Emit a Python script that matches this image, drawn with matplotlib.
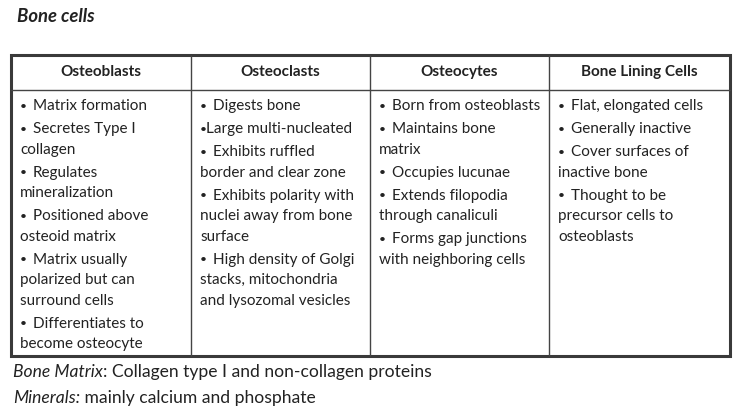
import matplotlib
matplotlib.use("Agg")
import matplotlib.pyplot as plt

plt.rcParams['font.family'] = ['Lato', 'DejaVu Sans']

title = "Bone cells"
headers = ["Osteoblasts", "Osteoclasts", "Osteocytes", "Bone Lining Cells"]
col_osteoblasts = [
    ["Matrix formation"],
    ["Secretes Type I", "collagen"],
    ["Regulates", "mineralization"],
    ["Positioned above", "osteoid matrix"],
    ["Matrix usually", "polarized but can", "surround cells"],
    ["Differentiates to", "become osteocyte"],
]
col_osteoclasts = [
    ["Digests bone"],
    ["Large multi-nucleated"],
    ["Exhibits ruffled", "border and clear zone"],
    ["Exhibits polarity with", "nuclei away from bone", "surface"],
    ["High density of Golgi", "stacks, mitochondria", "and lysozomal vesicles"],
]
col_osteocytes = [
    ["Born from osteoblasts"],
    ["Maintains bone", "matrix"],
    ["Occupies lucunae"],
    ["Extends filopodia", "through canaliculi"],
    ["Forms gap junctions", "with neighboring cells"],
]
col_lining = [
    ["Flat, elongated cells"],
    ["Generally inactive"],
    ["Cover surfaces of", "inactive bone"],
    ["Thought to be", "precursor cells to", "osteoblasts"],
]
columns = [col_osteoblasts, col_osteoclasts, col_osteocytes, col_lining]
footer_labels = ["Bone Matrix", "Minerals:"]
footer_texts = [": Collagen type I and non-collagen proteins", " mainly calcium and phosphate"]

W, H = 741, 419
fig = plt.figure(figsize=(W / 100, H / 100), dpi=100)
ax = fig.add_axes([0, 0, 1, 1])
ax.set_xlim(0, W)
ax.set_ylim(H, 0)
ax.axis("off")

left, right, top, bottom = 11, 729.5, 55.5, 356
col_x = [left, 191, 370, 549, right]
header_bottom = 90.5
ink = "#222222"
fs = 11.0

# Title
ax.text(17, 17, title, fontsize=13.3, fontweight="bold", fontstyle="italic",
        color=ink, va="center", ha="left")

# grid lines
for x in col_x[1:-1]:
    ax.plot([x, x], [top, bottom], color="#444444", lw=1.0, solid_capstyle="butt")
ax.plot([left, right], [header_bottom, header_bottom], color="#444444", lw=1.0)
ax.add_patch(plt.Rectangle((left, top), right - left, bottom - top, fill=False,
                           edgecolor="#3a3a3a", lw=2.2))

# headers
for i, h in enumerate(headers):
    cx = (col_x[i] + col_x[i + 1]) / 2
    ax.text(cx, 72, h, fontsize=fs, fontweight="bold", color=ink,
            ha="center", va="center")

# body
item_gap = 23.0
wrap_gap = 20.5
for ci, items in enumerate(columns):
    x0 = col_x[ci]
    y = 106
    for ii, lines in enumerate(items):
        for li, line in enumerate(lines):
            if li == 0:
                if ci == 1 and ii == 1:
                    ax.text(x0 + 9, y, "•", fontsize=fs * 0.8, color=ink,
                            ha="left", va="center")
                    ax.text(x0 + 15.5, y, line, fontsize=fs, color=ink,
                            ha="left", va="center")
                else:
                    ax.text(x0 + 9, y, "•", fontsize=fs * 0.8, color=ink,
                            ha="left", va="center")
                    ax.text(x0 + 22, y, line, fontsize=fs, color=ink,
                            ha="left", va="center")
            else:
                y += wrap_gap
                ax.text(x0 + 9, y, line, fontsize=fs, color=ink,
                        ha="left", va="center")
        y += item_gap

# footer
ffs = 12.6
fy = [372, 398]
for k in range(2):
    t1 = ax.text(13, fy[k], footer_labels[k], fontsize=ffs, fontstyle="italic",
                 color=ink, ha="left", va="center")
    fig.canvas.draw()
    bb = t1.get_window_extent()
    x_end = ax.transData.inverted().transform((bb.x1, bb.y0))[0]
    ax.text(x_end, fy[k], footer_texts[k], fontsize=ffs, color=ink,
            ha="left", va="center")

fig.savefig("out.png", dpi=100)
